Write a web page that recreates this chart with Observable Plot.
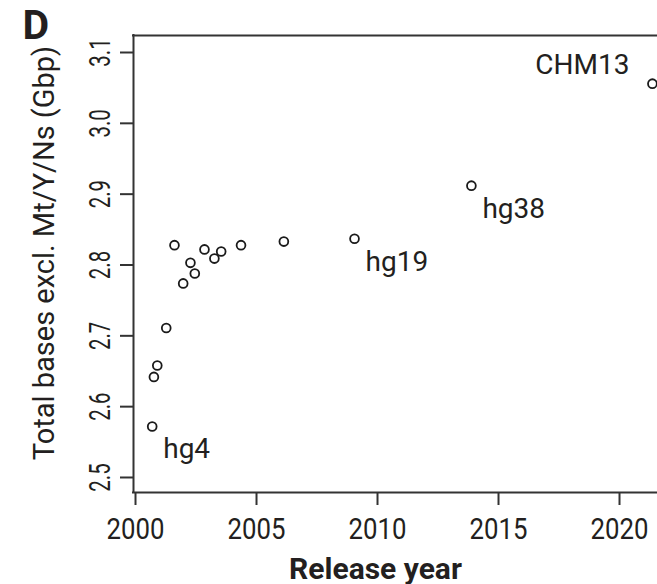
<!DOCTYPE html>
<html>
<head>
<meta charset="utf-8">
<script src="https://cdn.jsdelivr.net/npm/d3@7"></script>
<script src="https://cdn.jsdelivr.net/npm/@observablehq/plot@0.6"></script>
<style>
  html, body { margin: 0; padding: 0; background: #fff; overflow: hidden; }
</style>
</head>
<body>
<div id="chart"></div>
<script>
// Release year of each assembly
const years = [2000.69, 2000.76, 2000.90, 2001.27, 2001.61, 2001.97, 2002.27, 2002.45,
               2002.85, 2003.26, 2003.54, 2004.36, 2006.13, 2009.05, 2013.88, 2021.36];
// Total bases excl. Mt/Y/Ns (Gbp)
const gbp = [2.572, 2.642, 2.658, 2.711, 2.828, 2.774, 2.803, 2.788,
             2.822, 2.809, 2.819, 2.828, 2.833, 2.837, 2.912, 3.056];
// Point labels ("" = unlabelled)
const names = ["hg4", "", "", "", "", "", "", "", "", "", "", "", "", "hg19", "hg38", "CHM13"];

const xTicks = [2000, 2005, 2010, 2015, 2020];
const yTicks = [2.5, 2.6, 2.7, 2.8, 2.9, 3.0, 3.1];
const xDomain = [1999.917, 2021.57];
const yDomain = [2.4788, 3.124];

const panel = "D";
const xTitle = "Release year";
const yTitle = "Total bases excl. Mt/Y/Ns (Gbp)";

const data = years.map((y, i) => ({year: y, gbp: gbp[i], name: names[i]}));
const ink = "#231f20";
const FONT = 'Roboto, "Noto Sans", sans-serif';

const chart = Plot.plot({
  width: 657,
  height: 584,
  marginLeft: 133,
  marginRight: 0,
  marginTop: 35,
  marginBottom: 92,
  x: {domain: xDomain},
  y: {domain: yDomain},
  style: {fontFamily: FONT, color: ink, background: "#fff", overflow: "visible"},
  marks: [
    Plot.ruleX([xDomain[0]], {stroke: "#333", strokeWidth: 2, strokeLinecap: "square"}),
    Plot.ruleY(yDomain, {stroke: "#333", strokeWidth: 2, strokeLinecap: "square"}),
    Plot.axisX(xTicks, {tickSize: 13, tickPadding: 12, tickFormat: "d", fontSize: 30,
                        label: null, stroke: "#333", strokeWidth: 2}),
    Plot.axisY(yTicks, {tickSize: 13, tickPadding: 11, tickRotate: -90,
                        tickFormat: d3.format(".1f"), fontSize: 30,
                        label: null, stroke: "#333", strokeWidth: 2}),
    Plot.dot(data, {x: "year", y: "gbp", r: 4.4, stroke: "#1a1a1a", strokeWidth: 1.8, fill: "none"}),
    Plot.text(data.filter(d => d.name && d.name !== "CHM13"), {
      x: "year", y: "gbp", text: "name", textAnchor: "start", dx: 11, dy: 23,
      fontSize: 28, fill: ink, ariaLabel: "point-label"
    }),
    Plot.text(data.filter(d => d.name === "CHM13"), {
      x: "year", y: "gbp", text: "name", textAnchor: "end", dx: -23, dy: -19,
      fontSize: 28, fill: ink, ariaLabel: "point-label"
    }),
    Plot.text([yTitle], {
      frameAnchor: "left", rotate: -90, textAnchor: "middle", lineAnchor: "bottom",
      dx: -80, dy: -11, fontSize: 29, fill: ink, ariaLabel: "y-title"
    }),
    Plot.text([xTitle], {
      frameAnchor: "bottom", textAnchor: "middle", lineAnchor: "bottom",
      dx: -20, dy: 86, fontSize: 30, fontWeight: "bold", fill: ink, ariaLabel: "x-title"
    }),
    Plot.text([panel], {
      frameAnchor: "top-left", textAnchor: "start", lineAnchor: "bottom",
      dx: -111, dy: 3, fontSize: 41, fontWeight: "bold", fill: ink, ariaLabel: "panel-letter"
    })
  ]
});
document.getElementById("chart").appendChild(chart);

// Emulate the condensed typeface of the original by narrowing glyphs.
function squeeze(label, factor) {
  chart.querySelectorAll(`g[aria-label="${label}"] text`).forEach(t => {
    const L = t.getComputedTextLength();
    t.setAttribute("textLength", (L * factor).toFixed(1));
    t.setAttribute("lengthAdjust", "spacingAndGlyphs");
  });
}
squeeze("x-axis tick label", 0.86);
squeeze("y-axis tick label", 0.68);
squeeze("point-label", 0.81);
squeeze("y-title", 0.86);
squeeze("x-title", 0.79);
squeeze("panel-letter", 0.85);
</script>
</body>
</html>
